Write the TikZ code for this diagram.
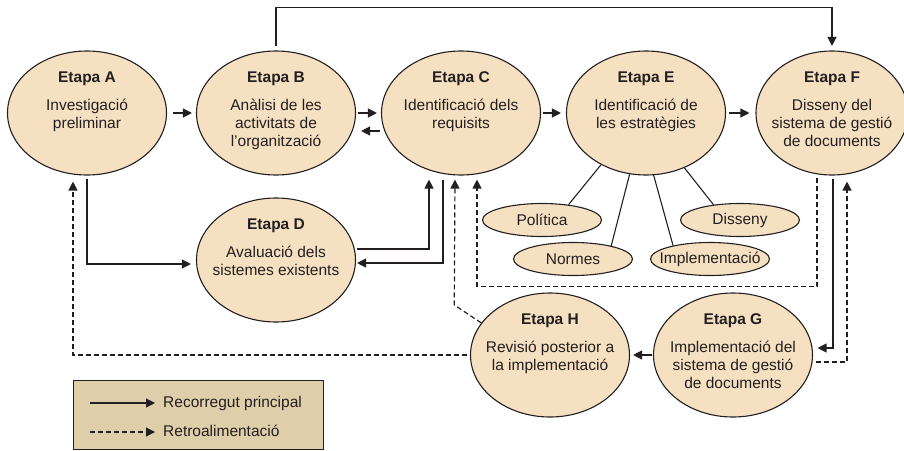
\documentclass[tikz,border=0pt]{standalone}
\usepackage{fontspec}
\setmainfont{Liberation Sans}
\usepackage{tikz}
\usepackage{xcolor}
\usetikzlibrary{arrows.meta,shapes.geometric}
\definecolor{ink}{RGB}{35,31,32}
\definecolor{stage-fill}{RGB}{245,225,193}
\definecolor{legend-fill}{RGB}{222,207,170}
\tikzset{
    stage-box/.style = {draw=ink, fill=stage-fill, line width=1.1pt, ellipse, minimum width=159pt, minimum height=124pt, inner sep=0pt},
    stage-text/.style = {text=ink, align=center, inner sep=0pt, below=21.5pt},
    topic-box/.style = {draw=ink, fill=stage-fill, line width=1.1pt, ellipse, minimum width=119pt, minimum height=33pt, inner sep=0pt},
    topic-text/.style = {text=ink, inner sep=0pt},
    tree-line/.style = {draw=ink, line width=1.1pt},
    flow-arrow/.style = {draw=ink, line width=1.2pt, -{Triangle[length=9pt,width=9pt]}},
    feedback-arrow/.style = {flow-arrow, dash pattern=on 5pt off 3pt},
    legend-box/.style = {draw=ink, fill=legend-fill, line width=1.1pt, anchor=north west, inner sep=0pt},
}

\begin{document}
\begin{tikzpicture}[x=1pt, y=-1pt, font=\fontsize{15.5}{18.3}\selectfont]
\useasboundingbox (0,0) rectangle (904,450);

\node [stage-box] (A) at (87,113) {};
\node [stage-box] (B) at (276,113) {};
\node [stage-box] (C) at (461,113) {};
\node [stage-box] (E) at (646,113) {};
\node [stage-box, minimum width=152pt] (F) at (832,113) {};
\node [stage-box] (D) at (276,260) {};
\node [stage-box] (H) at (550,355) {};
\node [stage-box] (G) at (733,355) {};

\node [topic-box] (pol) at (542,220) {};
\node [topic-box] (dis) at (740,220) {};
\node [topic-box] (nor) at (573,259) {};
\node [topic-box] (imp) at (710,259) {};

\node [stage-text] (A-text) at (A.north) {\textbf{Etapa A}\\[9pt]Investigació\\preliminar};
\node [stage-text] (B-text) at (B.north) {\textbf{Etapa B}\\[9pt]Anàlisi de les\\activitats de\\l’organització};
\node [stage-text] (C-text) at (C.north) {\textbf{Etapa C}\\[9pt]Identificació dels\\requisits};
\node [stage-text] (E-text) at (E.north) {\textbf{Etapa E}\\[9pt]Identificació de\\les estratègies};
\node [stage-text] (F-text) at (F.north) {\textbf{Etapa F}\\[9pt]Disseny del\\sistema de gestió\\de documents};
\node [stage-text] (D-text) at (D.north) {\textbf{Etapa D}\\[9pt]Avaluació dels\\sistemes existents};
\node [stage-text] (H-text) at (H.north) {\textbf{Etapa H}\\[9pt]Revisió posterior a\\la implementació};
\node [stage-text] (G-text) at (G.north) {\textbf{Etapa G}\\[9pt]Implementació del\\sistema de gestió\\de documents};

\node [topic-text] (pol-text) at (pol) {Política};
\node [topic-text] (dis-text) at (dis) {Disseny};
\node [topic-text] (nor-text) at (nor) {Normes};
\node [topic-text] (imp-text) at (imp) {Implementació};

\draw [tree-line] (E.229) -- (pol.30);
\draw [tree-line] (E.255) -- (nor.19);
\draw [tree-line] (E.277) -- (imp.160);
\draw [tree-line] (E.305) -- (dis.150);

\draw [flow-arrow, shorten <=6pt, shorten >=4pt] (A) -- (B);
\draw [flow-arrow, shorten <=2pt, shorten >=4pt] (B) -- (C);
\draw [flow-arrow, shorten <=1pt, shorten >=5pt] ([yshift=-18pt]C.west) -- ([yshift=-18pt]B.east);
\draw [flow-arrow, shorten <=2pt, shorten >=5pt] (C) -- (E);
\draw [flow-arrow, shorten <=3pt, shorten >=6pt] (E) -- (F);
\draw [flow-arrow, shorten <=4.5pt, shorten >=4.5pt] (B.north) -- ++(0,-43) -| (F.north);
\draw [flow-arrow, shorten <=3pt, shorten >=5pt] (A.south) |- ([yshift=-4pt]D.west);
\draw [flow-arrow, shorten <=1pt, shorten >=4pt] ([yshift=11pt]D.east) -| ([xshift=-32pt]C.south);
\draw [flow-arrow, shorten <=4pt, shorten >=1pt] ([xshift=-18pt]C.south) |- ([yshift=-3pt]D.east);
\draw [flow-arrow, shorten <=3pt, shorten >=4.5pt] ([xshift=1pt]F.south) |- ([yshift=7pt]G.east);
\draw [flow-arrow, shorten <=1pt, shorten >=3pt] (G) -- (H);

\draw [feedback-arrow, shorten >=4pt] (H.155) -- ++(-27,-18) -- ([xshift=-6pt]C.south);
\draw [feedback-arrow, shorten <=2.5pt, shorten >=4pt] ([xshift=-15pt]F.south) -- ++(0,111) -| ([xshift=16pt]C.south);
\draw [feedback-arrow, shorten <=2.5pt, shorten >=6pt] ([yshift=-7pt]G.east) -| ([xshift=15pt]F.south);
\draw [feedback-arrow, shorten <=3pt, shorten >=6pt] (H.west) -| ([xshift=-14pt]A.south);

\node [legend-box, minimum width=250pt, minimum height=69pt] (legend) at (73,380) {};
\coordinate (main-start) at (90,403);
\coordinate (fb-start) at (90,432);
\node [topic-text, anchor=base west] (main-text) at (163,407) {Recorregut principal};
\node [topic-text, anchor=base west] (fb-text) at (163,436) {Retroalimentació};
\draw [flow-arrow] (main-start) -- ++(65,0);
\draw [feedback-arrow] (fb-start) -- ++(65,0);
\end{tikzpicture}
\end{document}
